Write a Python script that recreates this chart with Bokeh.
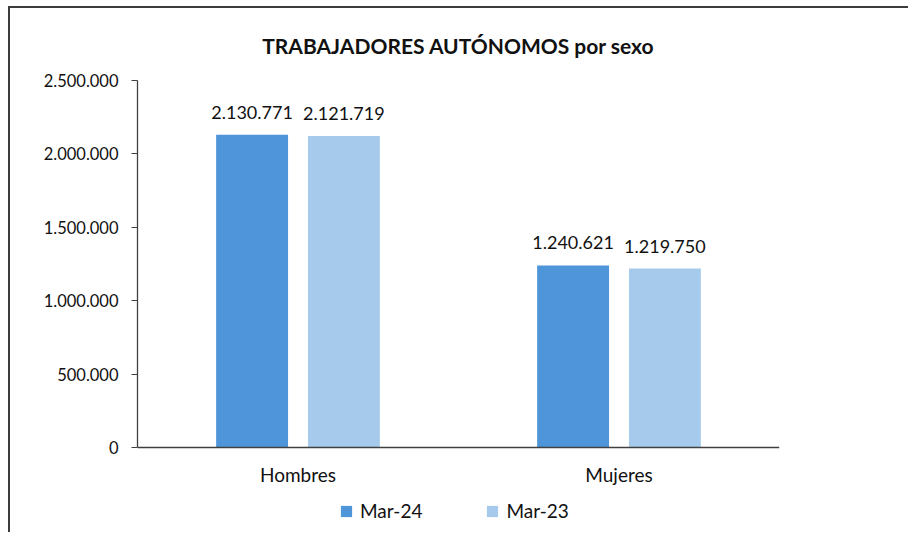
from bokeh.plotting import figure
from bokeh.models import (ColumnDataSource, FactorRange, Range1d, FixedTicker, LabelSet,
                          Legend, LegendItem, CategoricalAxis)
from bokeh.core.properties import value
from bokeh.transform import dodge
from bokeh.embed import file_html
from bokeh.resources import INLINE

categories = ["Hombres", "Mujeres"]
series_names = ["Mar-24", "Mar-23"]
mar24 = [2130771, 1240621]
mar23 = [2121719, 1219750]
y_ticks = [0, 500000, 1000000, 1500000, 2000000, 2500000]
y_tick_labels = ["0", "500.000", "1.000.000", "1.500.000", "2.000.000", "2.500.000"]
title_text = "TRABAJADORES AUTÓNOMOS por sexo"

colors = ["#4E95D9", "#A6CAEC"]
FONT = "Lato"
TXT = "#111111"
AX = "#404040"

# layout (pixels inside the figure canvas)
W, H = 900, 526
LEFT, RIGHT, TOP = 127, 131, 71
ZERO_PX = 439            # canvas y of value 0
Y_MAX = y_ticks[-1]
y_start = -Y_MAX * (H - ZERO_PX) / (ZERO_PX - TOP)


def fmt(v):
    return f"{v:,}".replace(",", ".")


src = ColumnDataSource(dict(
    cat=categories,
    v24=mar24,
    v23=mar23,
    l24=[fmt(v) for v in mar24],
    l23=[fmt(v) for v in mar23],
))

p = figure(
    x_range=FactorRange(factors=categories),
    y_range=Range1d(y_start, Y_MAX),
    width=W, height=H,
    x_axis_location=None,
    output_backend="svg", toolbar_location=None,
    min_border_left=LEFT, min_border_right=RIGHT,
    min_border_top=TOP, min_border_bottom=0,
)
p.styles = {"margin-left": "8px", "margin-top": "6px",
            "border-top": "2px solid #3c3c3c", "border-left": "2px solid #3c3c3c"}

p.title.text = title_text
p.title.align = "center"
p.title.text_font = FONT
p.title.text_font_style = "bold"
p.title.text_font_size = "21px"
p.title.text_color = TXT
p.title.standoff = 45
p.title.offset = 4

off = 0.143
bw = 0.224
r1 = p.vbar(x=dodge("cat", -off, range=p.x_range), top="v24", width=bw, source=src,
            fill_color=colors[0], line_color=None)
r2 = p.vbar(x=dodge("cat", off, range=p.x_range), top="v23", width=bw, source=src,
            fill_color=colors[1], line_color=None)

for col, o in (("l24", -off), ("l23", off)):
    p.add_layout(LabelSet(x=dodge("cat", o, range=p.x_range), y="v" + col[1:], text=col,
                          source=src, text_align="center", text_baseline="bottom",
                          y_offset=16, text_font=value(FONT), text_font_size="18px",
                          text_color=TXT))

p.xgrid.visible = False
p.ygrid.visible = False
p.outline_line_color = None

p.yaxis.ticker = FixedTicker(ticks=y_ticks)
p.yaxis.bounds = (0, Y_MAX)
p.yaxis.major_label_overrides = {t: l for t, l in zip(y_ticks, y_tick_labels)}
p.yaxis.minor_tick_line_color = None
p.yaxis.major_tick_out = 6
p.yaxis.major_tick_in = 0
p.yaxis.major_label_standoff = 13
p.yaxis.axis_line_color = AX
p.yaxis.major_tick_line_color = AX
p.yaxis.axis_line_width = 1.3
p.yaxis.major_label_text_font = FONT
p.yaxis.major_label_text_font_size = "16.5px"
p.yaxis.major_label_text_color = TXT

xaxis = CategoricalAxis(fixed_location=0)
xaxis.major_tick_line_color = None
xaxis.minor_tick_line_color = None
xaxis.major_tick_out = 0
xaxis.major_label_standoff = 15
xaxis.axis_line_color = AX
xaxis.axis_line_width = 1.3
xaxis.major_label_text_font = FONT
xaxis.major_label_text_font_size = "19px"
xaxis.major_label_text_color = TXT
p.add_layout(xaxis, "below")

legend = Legend(items=[LegendItem(label=series_names[0], renderers=[r1]),
                       LegendItem(label=series_names[1], renderers=[r2])],
                orientation="horizontal", location=(202, 12),
                glyph_width=14, glyph_height=14, label_standoff=7, spacing=63,
                padding=4, margin=0, border_line_color=None,
                background_fill_alpha=0,
                label_text_font=FONT, label_text_font_size="19px", label_text_color=TXT)
p.add_layout(legend)

open("out.html", "w").write(file_html(p, INLINE))
